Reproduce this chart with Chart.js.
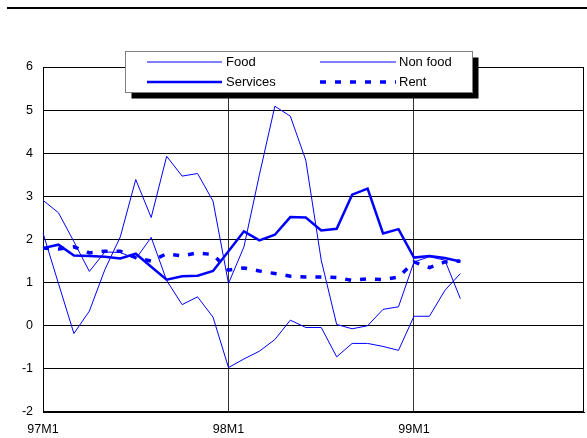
<!DOCTYPE html>
<html>
<head>
<meta charset="utf-8">
<script src="https://cdn.jsdelivr.net/npm/chart.js@4/dist/chart.umd.min.js"></script>
<style>
  html, body { margin: 0; padding: 0; background: #fff; }
  #c { display: block; }
</style>
</head>
<body>
<canvas id="c" width="587" height="438"></canvas>
<script>
// Monthly categories, 1997 to 1999
const months = [
  '97M1','97M2','97M3','97M4','97M5','97M6','97M7','97M8','97M9','97M10','97M11','97M12',
  '98M1','98M2','98M3','98M4','98M5','98M6','98M7','98M8','98M9','98M10','98M11','98M12',
  '99M1','99M2','99M3','99M4','99M5','99M6','99M7','99M8','99M9','99M10','99M11','99M12'
];
// Labels shown on the horizontal axis
const yearTicks = ['97M1', '98M1', '99M1'];

// Series values (per cent)
const food = [2.15, 0.98, -0.18, 0.34, 1.30, 2.06, 3.39, 2.51, 3.93, 3.47, 3.53, 2.89,
              0.98, 1.83, 3.50, 5.09, 4.86, 3.84, 1.52, 0.03, -0.07, 0.00, 0.38, 0.44,
              1.48, 1.60, 1.52, 0.63];
const nonFood = [2.91, 2.62, 1.95, 1.26, 1.71, 1.70, 1.55, 2.05, 1.05, 0.49, 0.67, 0.20,
                 -0.97, -0.77, -0.59, -0.32, 0.13, -0.04, -0.04, -0.72, -0.41, -0.41, -0.48, -0.57,
                 0.22, 0.22, 0.82, 1.21];
const services = [1.80, 1.88, 1.63, 1.62, 1.60, 1.56, 1.67, 1.37, 1.07, 1.15, 1.16, 1.27,
                  1.73, 2.19, 1.98, 2.11, 2.52, 2.51, 2.21, 2.25, 3.04, 3.18, 2.14, 2.24,
                  1.58, 1.62, 1.57, 1.49];
const rent = [1.80, 1.78, 1.83, 1.69, 1.73, 1.73, 1.58, 1.50, 1.67, 1.62, 1.69, 1.65,
              1.29, 1.34, 1.27, 1.21, 1.15, 1.13, 1.13, 1.12, 1.05, 1.09, 1.07, 1.13,
              1.48, 1.35, 1.48, 1.50];

const BLUE = 'rgb(0,0,255)';
const FONT = '"Liberation Sans", Arial, sans-serif';

// White page, rule under the heading, and the frame around the plot
const framePlugin = {
  id: 'frame',
  beforeDraw(chart) {
    const ctx = chart.ctx;
    ctx.save();
    ctx.fillStyle = '#fff';
    ctx.fillRect(0, 0, chart.width, chart.height);
    ctx.fillStyle = '#000';
    ctx.fillRect(7, 7, chart.width - 7, 2);
    ctx.restore();
  },
  beforeDatasetsDraw(chart) {
    const a = chart.chartArea, ctx = chart.ctx;
    ctx.save();
    ctx.strokeStyle = '#000';
    ctx.lineWidth = 1;
    ctx.strokeRect(Math.round(a.left) + 0.5, Math.round(a.top) + 0.5,
                   Math.round(a.right - a.left) - 1, Math.round(a.bottom - a.top) - 1);
    ctx.restore();
  }
};

// Boxed two-column key with a drop shadow
const keyPlugin = {
  id: 'boxKey',
  afterDraw(chart) {
    const ctx = chart.ctx;
    const bx = 125.5, by = 51.5, bw = 347, bh = 41;
    ctx.save();
    ctx.fillStyle = '#000';
    ctx.fillRect(bx + 6, by + 6, bw, bh);
    ctx.fillStyle = '#fff';
    ctx.fillRect(bx, by, bw, bh);
    ctx.strokeStyle = '#808080';
    ctx.lineWidth = 1;
    ctx.strokeRect(bx, by, bw, bh);
    const cols = [[147, 222, 226], [320, 396, 399]];
    const rows = [62, 82];
    chart.data.datasets.forEach((ds, i) => {
      const c = cols[i % 2], y = rows[Math.floor(i / 2)];
      ctx.beginPath();
      ctx.setLineDash(ds.borderDash || []);
      ctx.lineCap = 'butt';
      ctx.lineWidth = ds.borderWidth;
      ctx.strokeStyle = ds.borderColor;
      ctx.moveTo(c[0], y);
      ctx.lineTo(c[1], y);
      ctx.stroke();
      ctx.setLineDash([]);
      ctx.fillStyle = '#000';
      ctx.font = '13px ' + FONT;
      ctx.textBaseline = 'middle';
      ctx.textAlign = 'left';
      ctx.fillText(ds.label, c[2], y + 0.5);
    });
    ctx.restore();
  }
};

const lineDs = (label, data, width, dash) => ({
  label, data,
  borderColor: BLUE,
  backgroundColor: BLUE,
  borderWidth: width,
  borderDash: dash,
  borderCapStyle: 'butt',
  borderJoinStyle: 'miter',
  pointRadius: 0,
  tension: 0,
  fill: false
});

new Chart(document.getElementById('c'), {
  type: 'line',
  data: {
    labels: months,
    datasets: [
      lineDs('Food', food, 1, []),
      lineDs('Non food', nonFood, 1, []),
      lineDs('Services', services, 2.5, []),
      lineDs('Rent', rent, 3.5, [6, 9])
    ]
  },
  options: {
    responsive: false,
    animation: false,
    events: [],
    layout: { padding: { top: 67, right: 3, bottom: 0, left: 0 } },
    plugins: { legend: { display: false }, tooltip: { enabled: false }, title: { display: false } },
    scales: {
      x: {
        type: 'category',
        offset: false,
        afterFit(s) { s.height = 26; s.paddingLeft = 0; s.paddingRight = 0; },
        border: { display: true, color: '#000', width: 1 },
        grid: {
          drawTicks: false,
          color: (ctx) => (ctx.tick && yearTicks.includes(ctx.tick.label)) ? '#333' : 'rgba(0,0,0,0)',
          lineWidth: 1
        },
        ticks: {
          autoSkip: false,
          maxRotation: 0,
          minRotation: 0,
          padding: 10,
          color: '#000',
          font: { family: FONT, size: 12.5 },
          callback(v, i) {
            const l = months[i];
            return yearTicks.includes(l) ? l : '';
          }
        }
      },
      y: {
        min: -2,
        max: 6,
        afterFit(s) { s.width = 43; s.paddingTop = 0; s.paddingBottom = 0; },
        border: { display: true, color: '#000', width: 1 },
        grid: { drawTicks: false, color: '#000', lineWidth: 1 },
        ticks: {
          stepSize: 1,
          padding: 10,
          color: '#000',
          font: { family: FONT, size: 12.5 }
        }
      }
    }
  },
  plugins: [framePlugin, keyPlugin]
});
</script>
</body>
</html>
